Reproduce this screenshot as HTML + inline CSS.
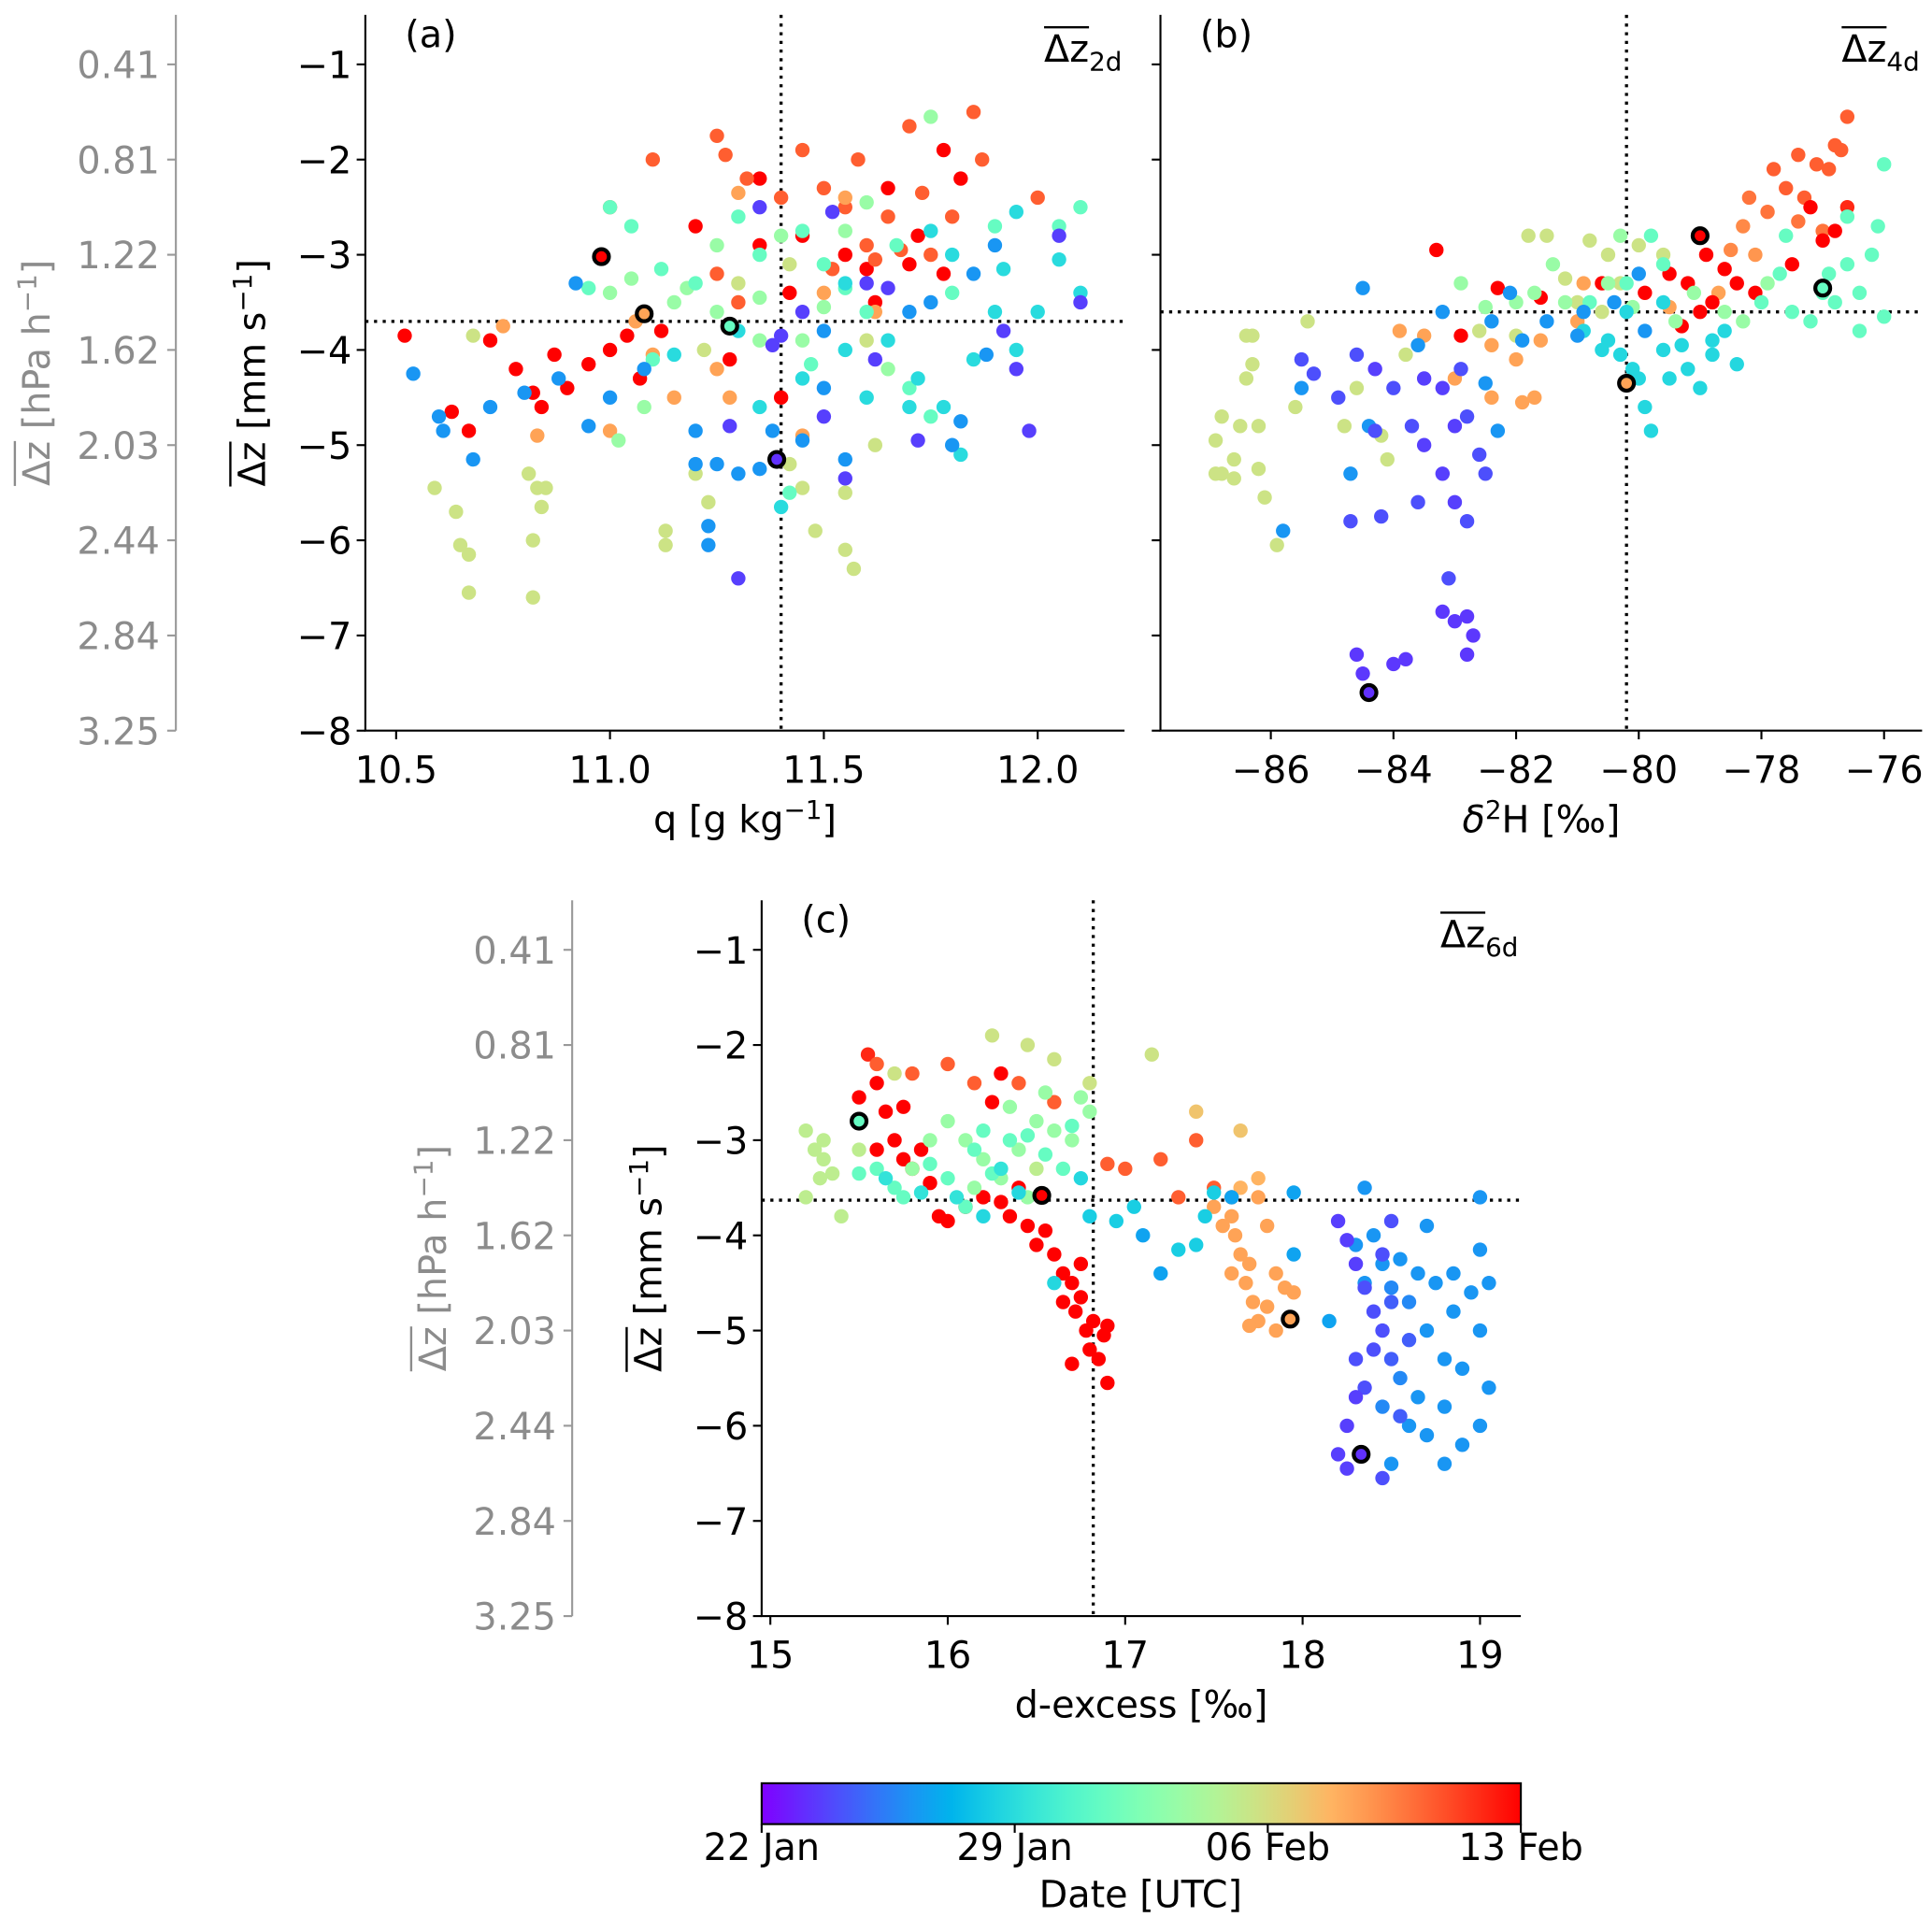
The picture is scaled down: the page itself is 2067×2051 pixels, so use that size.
<!DOCTYPE html>
<html><head><meta charset="utf-8"><style>
html,body{margin:0;padding:0;background:#fff}
svg{display:block;font-family:"DejaVu Sans","Liberation Sans",sans-serif}
</style></head><body>
<svg id="fig" width="2067" height="2051" viewBox="0 0 1560 1548" preserveAspectRatio="none" xmlns="http://www.w3.org/2000/svg">
<defs><linearGradient id="cbgrad" x1="0" x2="1" y1="0" y2="0"></linearGradient></defs>
</svg>
<script>
// ---------- data: [x, dz, dateFraction] ----------
const pointsA=[[10.52,-3.85,1],[10.63,-4.65,1],[10.67,-4.85,1],[10.72,-3.9,1],[10.78,-4.2,1],[10.82,-4.45,1],[10.84,-4.6,1],[10.87,-4.05,1],[10.9,-4.4,1],[10.95,-4.15,1],[11.0,-4.0,1],[11.04,-3.85,1],[11.07,-4.3,1],[11.12,-3.8,1],[11.2,-2.7,1],[11.28,-4.1,1],[11.35,-2.9,1],[11.4,-4.5,1],[11.42,-3.4,1],[11.45,-2.8,1],[11.55,-3.0,1],[11.6,-3.15,1],[11.62,-3.5,1],[11.65,-2.3,1],[11.7,-3.1,1],[11.72,-2.8,1],[11.78,-3.2,1],[11.82,-2.2,1],[11.78,-1.9,1],[11.35,-2.2,1],
[11.0,-2.5,0.88],[11.1,-2.0,0.88],[11.25,-1.75,0.88],[11.27,-1.95,0.88],[11.32,-2.2,0.88],[11.4,-2.4,0.88],[11.5,-2.3,0.88],[11.55,-2.5,0.88],[11.6,-2.9,0.88],[11.62,-3.05,0.88],[11.65,-2.6,0.88],[11.68,-2.95,0.88],[11.73,-2.35,0.88],[11.75,-3.0,0.88],[11.8,-2.6,0.88],[11.85,-1.5,0.88],[11.87,-2.0,0.88],[12.0,-2.4,0.88],[11.45,-1.9,0.88],[11.58,-2.0,0.88],[11.52,-3.15,0.88],[11.7,-1.65,0.88],[11.25,-3.2,0.88],[11.3,-3.5,0.88],
[10.75,-3.75,0.78],[10.83,-4.9,0.78],[11.0,-4.85,0.78],[11.06,-3.7,0.78],[11.1,-4.05,0.78],[11.15,-4.5,0.78],[11.25,-4.2,0.78],[11.3,-2.35,0.78],[11.45,-4.9,0.78],[11.5,-3.4,0.78],[11.55,-2.4,0.78],[11.62,-3.6,0.78],[11.28,-4.5,0.78],
[10.59,-5.45,0.65],[10.64,-5.7,0.65],[10.65,-6.05,0.65],[10.67,-6.15,0.65],[10.67,-6.55,0.65],[10.81,-5.3,0.65],[10.83,-5.45,0.65],[10.82,-6.0,0.65],[10.82,-6.6,0.65],[10.84,-5.65,0.65],[10.85,-5.45,0.65],[11.13,-5.9,0.65],[11.13,-6.05,0.65],[11.2,-5.3,0.65],[11.23,-5.6,0.65],[11.42,-5.2,0.65],[11.45,-5.45,0.65],[11.48,-5.9,0.65],[11.55,-5.5,0.65],[11.55,-6.1,0.65],[11.57,-6.3,0.65],[11.3,-3.3,0.65],[11.42,-3.1,0.65],[11.6,-3.9,0.65],[10.68,-3.85,0.65],[11.22,-4.0,0.65],[11.62,-5.0,0.65],
[11.0,-3.4,0.55],[11.05,-3.25,0.55],[11.15,-3.5,0.55],[11.25,-3.6,0.55],[11.35,-3.45,0.55],[11.5,-3.55,0.55],[11.6,-2.45,0.55],[11.65,-4.2,0.55],[11.75,-1.55,0.55],[11.45,-3.9,0.55],[11.35,-3.9,0.55],[11.18,-3.35,0.55],[11.02,-4.95,0.55],[11.08,-4.6,0.55],[11.25,-2.9,0.55],[11.4,-2.8,0.55],[11.55,-2.75,0.55],
[10.95,-3.35,0.45],[11.0,-2.5,0.45],[11.05,-2.7,0.45],[11.12,-3.15,0.45],[11.2,-3.3,0.45],[11.3,-2.6,0.45],[11.35,-3.0,0.45],[11.45,-2.75,0.45],[11.5,-3.1,0.45],[11.55,-3.35,0.45],[11.6,-3.6,0.45],[11.67,-2.9,0.45],[11.7,-4.4,0.45],[11.75,-4.7,0.45],[11.8,-3.4,0.45],[11.9,-2.7,0.45],[12.05,-2.7,0.45],[12.1,-2.5,0.45],[11.1,-4.1,0.45],[11.47,-4.15,0.45],[11.42,-5.5,0.45],
[11.15,-4.05,0.33],[11.3,-3.8,0.33],[11.45,-4.3,0.33],[11.55,-4.0,0.33],[11.6,-4.5,0.33],[11.65,-3.9,0.33],[11.7,-4.6,0.33],[11.72,-4.3,0.33],[11.78,-4.6,0.33],[11.8,-3.0,0.33],[11.82,-5.1,0.33],[11.85,-4.1,0.33],[11.9,-3.6,0.33],[11.92,-3.15,0.33],[11.95,-2.55,0.33],[12.05,-3.05,0.33],[12.1,-3.4,0.33],[12.0,-3.6,0.33],[11.95,-4.0,0.33],[11.4,-5.65,0.33],[11.35,-4.6,0.33],[11.55,-3.3,0.33],[11.75,-2.75,0.33],
[10.54,-4.25,0.2],[10.6,-4.7,0.2],[10.61,-4.85,0.2],[10.68,-5.15,0.2],[10.72,-4.6,0.2],[10.8,-4.45,0.2],[10.88,-4.3,0.2],[10.92,-3.3,0.2],[10.95,-4.8,0.2],[11.0,-4.5,0.2],[11.08,-4.2,0.2],[11.2,-4.85,0.2],[11.2,-5.2,0.2],[11.23,-5.85,0.2],[11.23,-6.05,0.2],[11.25,-5.2,0.2],[11.3,-5.3,0.2],[11.35,-5.25,0.2],[11.38,-4.85,0.2],[11.45,-4.95,0.2],[11.5,-4.4,0.2],[11.55,-5.15,0.2],[11.7,-3.6,0.2],[11.75,-3.5,0.2],[11.82,-4.75,0.2],[11.88,-4.05,0.2],[11.9,-2.9,0.2],[11.8,-5.0,0.2],[11.5,-3.8,0.2],[11.85,-3.2,0.2],
[11.3,-6.4,0.08],[11.28,-4.8,0.08],[11.35,-2.5,0.08],[11.4,-3.85,0.08],[11.45,-3.6,0.08],[11.5,-4.7,0.08],[11.55,-5.35,0.08],[11.62,-4.1,0.08],[11.65,-3.35,0.08],[11.72,-4.95,0.08],[11.92,-3.8,0.08],[11.95,-4.2,0.08],[11.98,-4.85,0.08],[12.05,-2.8,0.08],[12.1,-3.5,0.08],[11.52,-2.55,0.08],[11.6,-3.3,0.08],[11.38,-3.95,0.08]];
const highlightA=[[10.98,-3.02,1],[11.08,-3.62,0.78],[11.28,-3.75,0.45],[11.39,-5.15,0.06]];
const pointsB=[[-86.8,-4.7,0.65],[-86.9,-4.95,0.65],[-86.9,-5.3,0.65],[-86.8,-5.3,0.65],[-86.6,-5.35,0.65],[-86.6,-5.15,0.65],[-86.5,-4.8,0.65],[-86.4,-3.85,0.65],[-86.4,-4.3,0.65],[-86.3,-3.85,0.65],[-86.3,-4.15,0.65],[-86.2,-4.8,0.65],[-86.1,-5.55,0.65],[-86.2,-5.25,0.65],[-85.9,-6.05,0.65],[-85.6,-4.6,0.65],[-85.4,-3.7,0.65],[-84.8,-4.8,0.65],[-84.2,-4.9,0.65],[-84.1,-5.15,0.65],[-84.6,-4.4,0.65],[-83.8,-4.05,0.65],[-82.6,-3.8,0.65],[-82.0,-3.85,0.65],[-81.5,-2.8,0.65],[-81.8,-2.8,0.65],[-81.2,-3.25,0.65],[-80.8,-2.85,0.65],[-80.5,-3.0,0.65],[-80.3,-3.3,0.65],[-80.0,-2.9,0.65],[-79.6,-3.0,0.65],[-81.0,-3.5,0.65],[-80.6,-3.6,0.65],
[-83.9,-3.8,0.78],[-83.5,-3.85,0.78],[-83.0,-4.3,0.78],[-82.4,-3.95,0.78],[-82.0,-4.1,0.78],[-81.6,-3.9,0.78],[-81.7,-4.5,0.78],[-82.4,-4.5,0.78],[-81.9,-4.55,0.78],[-81.0,-3.7,0.78],[-79.5,-3.55,0.78],[-78.7,-3.4,0.78],[-78.1,-3.0,0.8],[-77.4,-2.65,0.85],[-77.0,-2.75,0.85],[-76.9,-2.1,0.88],[-76.6,-1.55,0.88],[-76.7,-1.9,0.88],[-77.1,-2.05,0.88],[-77.4,-1.95,0.88],[-77.6,-2.3,0.88],[-77.9,-2.55,0.85],[-78.3,-2.7,0.82],[-78.5,-2.95,0.82],[-77.8,-2.1,0.88],[-78.2,-2.4,0.85],[-76.8,-1.85,0.88],[-77.3,-2.4,0.88],[-80.9,-3.3,0.78],
[-83.3,-2.95,1],[-82.3,-3.35,1],[-81.6,-3.45,1],[-80.6,-3.3,1],[-79.2,-3.3,1],[-78.9,-3.0,1],[-78.6,-3.15,1],[-78.4,-3.3,1],[-78.1,-3.4,1],[-79.0,-3.6,1],[-79.5,-3.2,1],[-77.2,-2.5,1],[-77.0,-2.85,1],[-76.8,-2.75,1],[-76.6,-2.5,0.95],[-77.5,-3.1,1],[-79.9,-3.4,1],[-78.8,-3.5,1],[-79.3,-3.75,1],[-82.9,-3.85,1],
[-82.9,-3.3,0.55],[-82.0,-3.5,0.55],[-81.7,-3.4,0.55],[-81.2,-3.5,0.55],[-80.5,-3.3,0.55],[-80.1,-3.55,0.55],[-79.4,-3.7,0.55],[-79.1,-3.4,0.55],[-78.6,-3.6,0.55],[-78.3,-3.7,0.55],[-77.9,-3.3,0.55],[-82.5,-3.55,0.55],[-80.3,-2.8,0.55],[-81.4,-3.1,0.55],
[-80.8,-3.5,0.45],[-80.2,-3.3,0.45],[-79.8,-2.8,0.45],[-79.6,-3.1,0.45],[-78.0,-3.5,0.45],[-77.7,-3.2,0.45],[-77.5,-3.6,0.45],[-77.2,-3.7,0.45],[-76.9,-3.2,0.45],[-76.8,-3.5,0.45],[-76.6,-3.1,0.45],[-76.4,-3.4,0.45],[-76.2,-3.0,0.45],[-76.1,-2.7,0.45],[-76.0,-2.05,0.45],[-76.0,-3.65,0.45],[-76.4,-3.8,0.45],[-77.0,-3.4,0.45],[-77.6,-2.8,0.45],[-76.6,-2.6,0.45],
[-80.5,-3.9,0.32],[-80.3,-4.05,0.32],[-80.1,-4.2,0.32],[-80.0,-4.3,0.32],[-79.9,-4.6,0.32],[-79.8,-4.85,0.32],[-79.6,-4.0,0.32],[-79.5,-4.3,0.32],[-79.3,-3.95,0.32],[-79.2,-4.2,0.32],[-79.0,-4.4,0.32],[-78.8,-4.05,0.32],[-78.6,-3.8,0.32],[-78.4,-4.15,0.32],[-80.6,-4.0,0.32],[-80.2,-3.6,0.32],[-79.6,-3.5,0.32],[-80.9,-3.8,0.32],[-78.8,-3.9,0.32],
[-84.5,-3.35,0.2],[-83.6,-3.95,0.2],[-83.2,-3.6,0.2],[-82.4,-3.7,0.2],[-82.1,-3.4,0.2],[-81.0,-3.85,0.2],[-80.9,-3.6,0.2],[-80.4,-3.5,0.2],[-80.0,-3.2,0.2],[-82.5,-4.35,0.2],[-82.3,-4.85,0.2],[-81.9,-3.9,0.2],[-84.7,-5.3,0.2],[-84.4,-4.8,0.2],[-85.5,-4.4,0.2],[-85.8,-5.9,0.2],[-81.5,-3.7,0.2],[-79.9,-3.8,0.2],
[-85.5,-4.1,0.1],[-85.3,-4.25,0.1],[-84.9,-4.5,0.1],[-84.6,-4.05,0.1],[-84.3,-4.85,0.1],[-84.0,-4.4,0.1],[-83.7,-4.8,0.1],[-83.5,-5.0,0.08],[-83.2,-4.4,0.08],[-83.0,-4.8,0.08],[-82.9,-4.2,0.1],[-82.8,-4.7,0.1],[-82.6,-5.1,0.1],[-82.5,-5.3,0.1],[-83.2,-5.3,0.08],[-83.0,-5.6,0.08],[-82.8,-5.8,0.1],[-84.7,-5.8,0.1],[-84.2,-5.75,0.1],[-83.6,-5.6,0.1],[-84.6,-7.2,0.07],[-84.5,-7.4,0.07],[-84.0,-7.3,0.07],[-83.8,-7.25,0.07],[-83.2,-6.75,0.07],[-83.0,-6.85,0.07],[-82.8,-6.8,0.07],[-82.7,-7.0,0.07],[-82.8,-7.2,0.07],[-83.1,-6.4,0.1],[-84.3,-4.2,0.08],[-83.5,-4.3,0.08]];
const highlightB=[[-84.4,-7.6,0.06],[-80.2,-4.35,0.78],[-79.0,-2.8,1],[-77.0,-3.35,0.45]];
const pointsC=[[15.5,-2.55,1],[15.55,-2.1,0.95],[15.6,-2.4,1],[15.65,-2.7,1],[15.7,-3.0,1],[15.75,-3.2,1],[15.8,-3.3,1],[15.85,-3.1,1],[15.9,-3.45,1],[15.95,-3.8,1],[16.0,-3.85,1],[16.1,-3.7,1],[16.2,-3.6,1],[16.3,-3.65,1],[16.35,-3.8,1],[16.4,-3.5,1],[16.45,-3.9,1],[16.5,-4.1,1],[16.55,-3.95,1],[16.6,-4.2,1],[16.65,-4.4,1],[16.7,-4.5,1],[16.72,-4.8,1],[16.75,-4.65,1],[16.75,-4.3,1],[16.78,-5.0,1],[16.8,-5.2,1],[16.82,-4.9,1],[16.85,-5.3,1],[16.88,-5.05,1],[16.9,-5.55,1],[16.9,-4.95,1],[16.65,-4.7,1],[16.7,-5.35,1],[15.6,-3.1,1],[15.75,-2.65,1],[16.3,-2.3,1],[16.25,-2.6,1],
[15.6,-2.2,0.88],[15.8,-2.3,0.88],[16.0,-2.2,0.88],[16.15,-2.4,0.88],[16.4,-2.4,0.88],[16.6,-2.6,0.88],[17.0,-3.3,0.88],[17.2,-3.2,0.88],[17.3,-3.6,0.88],[17.4,-3.0,0.88],[17.5,-3.5,0.88],[17.6,-3.6,0.88],[16.9,-3.25,0.88],
[17.6,-3.8,0.78],[17.62,-4.0,0.78],[17.65,-4.2,0.78],[17.7,-4.3,0.78],[17.68,-4.5,0.78],[17.72,-4.7,0.78],[17.75,-4.9,0.78],[17.8,-4.75,0.78],[17.85,-5.0,0.78],[17.55,-3.9,0.78],[17.6,-4.4,0.78],[17.75,-3.6,0.78],[17.8,-3.9,0.78],[17.85,-4.4,0.78],[17.9,-4.55,0.78],[17.65,-3.5,0.75],[17.7,-4.95,0.78],[17.95,-4.6,0.78],[17.5,-3.7,0.78],[17.75,-3.4,0.75],[17.65,-2.9,0.72],[17.4,-2.7,0.72],
[15.2,-2.9,0.62],[15.25,-3.1,0.62],[15.3,-3.2,0.62],[15.3,-3.0,0.62],[15.35,-3.35,0.62],[15.4,-3.8,0.62],[15.2,-3.6,0.62],[15.28,-3.4,0.62],[16.25,-1.9,0.65],[16.45,-2.0,0.65],[16.6,-2.15,0.65],[17.15,-2.1,0.65],[15.7,-2.3,0.65],[16.8,-2.4,0.65],[16.5,-3.3,0.62],[15.5,-3.1,0.62],
[16.0,-2.8,0.55],[16.1,-3.0,0.55],[16.2,-3.2,0.55],[16.3,-3.4,0.55],[16.4,-3.1,0.55],[16.5,-2.8,0.55],[16.6,-2.9,0.55],[16.7,-3.0,0.55],[16.8,-2.7,0.55],[16.75,-2.55,0.55],[16.55,-2.5,0.55],[15.9,-3.0,0.55],[15.8,-3.3,0.55],[16.15,-3.5,0.55],[16.45,-3.6,0.55],[16.35,-2.65,0.55],
[15.6,-3.3,0.45],[15.7,-3.5,0.45],[15.9,-3.25,0.45],[16.0,-3.4,0.45],[16.15,-3.1,0.45],[16.25,-3.35,0.45],[16.35,-3.0,0.45],[16.45,-2.95,0.45],[16.55,-3.15,0.45],[16.65,-3.3,0.45],[16.7,-2.85,0.45],[15.5,-3.35,0.45],[15.75,-3.6,0.45],[16.1,-3.7,0.45],[16.2,-2.9,0.45],
[15.65,-3.4,0.35],[15.85,-3.55,0.35],[16.05,-3.6,0.35],[16.2,-3.8,0.32],[16.4,-3.55,0.32],[16.6,-4.5,0.32],[16.75,-3.4,0.32],[16.8,-3.8,0.3],[16.95,-3.85,0.3],[17.05,-3.7,0.3],[17.3,-4.15,0.3],[17.4,-4.1,0.3],[17.5,-3.55,0.3],[16.3,-3.3,0.35],[17.45,-3.8,0.3],
[17.1,-4.0,0.22],[17.2,-4.4,0.22],[17.6,-3.6,0.22],[17.95,-3.55,0.22],[17.95,-4.2,0.22],[18.15,-4.9,0.22],[18.35,-3.5,0.2],[18.4,-4.0,0.2],[18.45,-4.3,0.2],[18.5,-4.55,0.18],[18.55,-4.25,0.2],[18.6,-4.7,0.18],[18.65,-4.4,0.2],[18.7,-5.0,0.2],[18.75,-4.5,0.2],[18.8,-5.3,0.2],[18.85,-4.4,0.2],[18.9,-5.4,0.2],[18.95,-4.6,0.2],[19.0,-4.15,0.2],[19.05,-4.5,0.2],[19.0,-5.0,0.2],[19.05,-5.6,0.2],[19.0,-6.0,0.2],[18.9,-6.2,0.2],[18.8,-6.4,0.2],[18.7,-6.1,0.2],[18.6,-6.0,0.2],[18.5,-6.4,0.2],[18.45,-5.8,0.18],[18.55,-5.5,0.18],[18.65,-5.7,0.2],[18.8,-5.8,0.2],[18.3,-4.1,0.2],[18.35,-4.5,0.2],[19.0,-3.6,0.2],[18.7,-3.9,0.2],[18.85,-4.8,0.2],
[18.2,-3.85,0.08],[18.25,-4.05,0.08],[18.3,-4.3,0.08],[18.35,-4.55,0.1],[18.4,-4.8,0.1],[18.45,-5.0,0.1],[18.5,-5.3,0.12],[18.4,-5.2,0.1],[18.35,-5.6,0.1],[18.3,-5.7,0.08],[18.25,-6.0,0.08],[18.2,-6.3,0.08],[18.25,-6.45,0.08],[18.45,-6.55,0.1],[18.55,-5.9,0.12],[18.6,-5.1,0.12],[18.5,-4.7,0.12],[18.45,-4.2,0.1],[18.5,-3.85,0.1],[18.3,-5.3,0.1]];
const highlightC=[[15.5,-2.8,0.45],[16.53,-3.58,1],[17.93,-4.88,0.78],[18.33,-6.3,0.06]];
const yTicks=[-1,-2,-3,-4,-5,-6,-7,-8];
const hpaLabels=["0.41","0.81","1.22","1.62","2.03","2.44","2.84","3.25"];
const xTicksA=[10.5,11.0,11.5,12.0];
const xTicksB=[-86,-84,-82,-80,-78,-76];
const xTicksC=[15,16,17,18,19];
const refA=[11.40,-3.7], refB=[-80.2,-3.6], refC=[16.82,-3.63];
const cbTicks=["22 Jan","29 Jan","06 Feb","13 Feb"];

const NS="http://www.w3.org/2000/svg";
const svg=document.getElementById('fig');
function mk(tag,attrs,parent){const e=document.createElementNS(NS,tag);for(const k in attrs)e.setAttribute(k,attrs[k]);(parent||svg).appendChild(e);return e;}
function rainbow(t){const r=Math.min(1,Math.abs(2*t-0.5)),g=Math.sin(Math.PI*t),b=Math.cos(Math.PI*t/2);
 return `rgb(${Math.round(r*255)},${Math.round(g*255)},${Math.round(Math.max(0,b)*255)})`;}
const FS=30, SUP=21;
function overText(parent,x,y,anchor,html,color,name){
 const t=mk('text',{x:x,y:y,'text-anchor':anchor,'font-size':FS,fill:color},parent);
 t.innerHTML=html;
 
 let x0=x,w=34;
 try{const s=t.getStartPositionOfChar(0);const e=t.getEndPositionOfChar(1);x0=s.x;w=e.x-s.x;}catch(err){}
 mk('line',{x1:x0,x2:x0+w,y1:y-28,y2:y-28,stroke:color,'stroke-width':1.8},parent);
 return t;
}

function panel(o){
 const g=mk('g',{});
 
 
 const sx=v=>o.x0+(v-o.xmin)/(o.xmax-o.xmin)*(o.x1-o.x0);
 const sy=v=>o.ytop+(-1-v)*76.86;
 const ybot=sy(-8), yt=o.y0;
 const vl=mk('line',{x1:sx(o.ref[0]),x2:sx(o.ref[0]),y1:yt,y2:ybot,stroke:'#000','stroke-width':2.5,'stroke-dasharray':'2.5,4.5'},g);
 
 const hl=mk('line',{x1:o.x0,x2:o.x1,y1:sy(o.ref[1]),y2:sy(o.ref[1]),stroke:'#000','stroke-width':2.5,'stroke-dasharray':'2.5,4.5'},g);
 
 o.pts.forEach(p=>{const c=mk('circle',{cx:sx(p[0]),cy:sy(p[1]),r:5.8,fill:rainbow(p[2])},g);
  });
 o.hl.forEach(p=>{const c=mk('circle',{cx:sx(p[0]),cy:sy(p[1]),r:6,fill:rainbow(p[2]),stroke:'#000','stroke-width':3.2},g);
  });
 const sp=mk('path',{d:`M${o.x0},${yt}V${ybot}H${o.x1}`,fill:'none',stroke:'#000','stroke-width':1.6},g);
 
 yTicks.forEach(v=>{mk('line',{x1:o.x0-7,x2:o.x0,y1:sy(v),y2:sy(v),stroke:'#000','stroke-width':1.6},g);
  if(o.ylabels){const t=mk('text',{x:o.x0-11,y:sy(v)+11,'text-anchor':'end','font-size':FS},g);t.textContent='\u2212'+Math.abs(v);
   }});
 o.xt.forEach(v=>{mk('line',{x1:sx(v),x2:sx(v),y1:ybot,y2:ybot+7,stroke:'#000','stroke-width':1.6},g);
  const t=mk('text',{x:sx(v),y:ybot+42,'text-anchor':'middle','font-size':FS},g);
  t.textContent=(v<0?'\u2212'+Math.abs(v):(o.dec?v.toFixed(1):String(v)));
  });
 const xl=mk('text',{x:(o.x0+o.x1)/2,y:ybot+82,'text-anchor':'middle','font-size':FS},g);xl.innerHTML=o.xlabel;
 
 const pl=mk('text',{x:o.x0+32,y:yt+26,'font-size':FS},g);pl.textContent=o.letter;
 
 overText(g,o.x1-2,yt+38,'end',`Δz<tspan font-size="${SUP}" dy="7">${o.sub}</tspan>`,'#000','dz-window-label');
 if(o.ylabels){
  const cy=(yt+ybot)/2;
  const rg=mk('g',{transform:`translate(${o.x0-81},${cy}) rotate(-90)`},g);
  overText(rg,0,0,'middle',`Δz [mm s<tspan font-size="${SUP}" dy="-11">−1</tspan><tspan dy="11">]</tspan>`,'#000','y-axis-title');
  const gx=o.gx;
  const ga=mk('line',{x1:gx,x2:gx,y1:yt,y2:ybot,stroke:'#999','stroke-width':1.6},g);
  
  yTicks.forEach((v,i)=>{mk('line',{x1:gx-7,x2:gx,y1:sy(v),y2:sy(v),stroke:'#999','stroke-width':1.6},g);
   const t=mk('text',{x:gx-13,y:sy(v)+11,'text-anchor':'end','font-size':FS,fill:'#8c8c8c'},g);t.textContent=hpaLabels[i];
   });
  const rg2=mk('g',{transform:`translate(${gx-102},${cy}) rotate(-90)`},g);
  overText(rg2,0,0,'middle',`Δz [hPa h<tspan font-size="${SUP}" dy="-11">−1</tspan><tspan dy="11">]</tspan>`,'#8c8c8c','secondary-axis-title');
 }
}
panel({name:'panel-a',x0:295,x1:908,xmin:10.428,xmax:12.203,y0:12,ytop:52,pts:pointsA,hl:highlightA,ref:refA,xt:xTicksA,dec:true,ylabels:true,gx:142,letter:'(a)',sub:'2d',xlabel:`q [g kg<tspan font-size="${SUP}" dy="-11">−1</tspan><tspan dy="11">]</tspan>`});
panel({name:'panel-b',x0:937,x1:1552,xmin:-87.8,xmax:-75.38,y0:12,ytop:52,pts:pointsB,hl:highlightB,ref:refB,xt:xTicksB,ylabels:false,letter:'(b)',sub:'4d',xlabel:`<tspan font-style="italic">δ</tspan><tspan font-size="${SUP}" dy="-11">2</tspan><tspan dy="11">H [‰]</tspan>`});
panel({name:'panel-c',x0:615,x1:1228,xmin:14.951,xmax:19.23,y0:727,ytop:767,pts:pointsC,hl:highlightC,ref:refC,xt:xTicksC,ylabels:true,gx:462,letter:'(c)',sub:'6d',xlabel:'d-excess [‰]'});

const grad=document.getElementById('cbgrad');
for(let i=0;i<=20;i++){mk('stop',{offset:(i/20),'stop-color':rainbow(i/20)},grad);}
const cb=mk('rect',{x:615,y:1440,width:613,height:33,fill:'url(#cbgrad)',stroke:'#000','stroke-width':1.6});

cbTicks.forEach((s,i)=>{const x=615+i*613/3;mk('line',{x1:x,x2:x,y1:1473,y2:1480,stroke:'#000','stroke-width':1.6});
 const t=mk('text',{x:x,y:1502,'text-anchor':'middle','font-size':FS});t.textContent=s;
 });
const ct=mk('text',{x:921,y:1540,'text-anchor':'middle','font-size':FS});ct.textContent='Date [UTC]';

</script>
</body></html>
